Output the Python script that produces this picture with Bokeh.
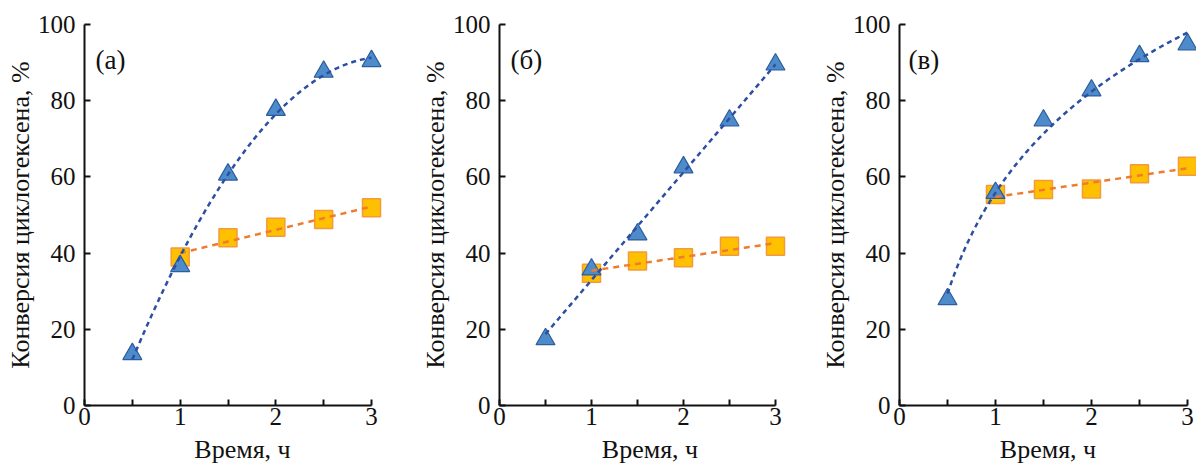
import numpy as np
from bokeh.plotting import figure
from bokeh.layouts import row
from bokeh.models import FixedTicker, Range1d, Label
from bokeh.embed import file_html
from bokeh.resources import INLINE

# ---- data ----
time_tri = [0.5, 1.0, 1.5, 2.0, 2.5, 3.0]
time_sq = [1.0, 1.5, 2.0, 2.5, 3.0]

a_tri = [13.5, 36.6, 60.6, 77.6, 87.6, 90.4]
a_sq = [39.0, 44.0, 46.8, 48.8, 51.9]

b_tri = [17.4, 35.7, 44.9, 62.5, 74.8, 89.5]
b_sq = [34.7, 37.9, 38.8, 41.8, 41.8]

v_tri = [27.9, 55.8, 74.8, 82.7, 91.7, 94.8]
v_sq = [55.4, 56.7, 56.8, 60.8, 62.8]

panel_labels = ["(а)", "(б)", "(в)"]
x_ticks = [0, 1, 2, 3]
x_minor = [0.5, 1.5, 2.5]
y_ticks = [0, 20, 40, 60, 80, 100]
x_title = "Время, ч"
y_title = "Конверсия циклогексена, %"

# trendline kind for each series (least-squares fit of the data above)
fits = [("poly2", "lin"), ("lin", "lin"), ("log", "lin")]

FONT = "'Liberation Serif', 'Times New Roman', serif"
TRI_FILL = "#4E8BCB"
TRI_LINE = "#2C5D9C"
BLUE_FIT = "#2D4FA3"
SQ_FILL = "#FFC000"
SQ_LINE = "#F29A3C"
ORANGE_FIT = "#EF7B2E"


def trend(x, y, kind, x0, x1):
    xs = np.linspace(x0, x1, 120)
    x = np.asarray(x, float)
    y = np.asarray(y, float)
    if kind == "lin":
        c = np.polyfit(x, y, 1)
        ys = np.polyval(c, xs)
    elif kind == "poly2":
        c = np.polyfit(x, y, 2)
        ys = np.polyval(c, xs)
    else:
        c = np.polyfit(np.log(x), y, 1)
        ys = np.polyval(c, np.log(xs))
    return xs, ys


def make_panel(tri, sq, label, kinds, width, border_left, x_end, lab_x):
    p = figure(width=width, height=466, output_backend="svg", toolbar_location=None,
               x_range=Range1d(0, x_end), y_range=Range1d(0, 100),
               min_border_left=border_left, min_border_right=0,
               min_border_top=24, min_border_bottom=59)
    p.outline_line_color = None
    p.grid.visible = False
    p.background_fill_color = "white"
    p.border_fill_color = "white"

    # markers
    p.scatter(time_sq, sq, marker="square", size=18, fill_color=SQ_FILL,
              line_color=SQ_LINE, line_width=1.5)
    p.scatter(time_tri, tri, marker="triangle", size=19, fill_color=TRI_FILL,
              line_color=TRI_LINE, line_width=1.2)

    # trendlines
    xs, ys = trend(time_sq, sq, kinds[1], time_sq[0], time_sq[-1])
    p.line(xs, ys, line_color=ORANGE_FIT, line_width=2.5, line_dash="6 5")
    xs, ys = trend(time_tri, tri, kinds[0], time_tri[0], time_tri[-1])
    p.line(xs, ys, line_color=BLUE_FIT, line_width=2.5, line_dash="5 4")

    # axes
    p.xaxis.ticker = FixedTicker(ticks=x_ticks, minor_ticks=x_minor)
    p.yaxis.ticker = FixedTicker(ticks=y_ticks, minor_ticks=[])
    p.xaxis.bounds = (0, 3)
    for ax in (p.xaxis[0], p.yaxis[0]):
        ax.axis_line_width = 2
        ax.axis_line_color = "#111111"
        ax.major_tick_in = 6
        ax.major_tick_out = 0
        ax.major_tick_line_width = 2
        ax.major_tick_line_color = "#111111"
        ax.minor_tick_in = 6
        ax.minor_tick_out = 0
        ax.minor_tick_line_width = 2
        ax.minor_tick_line_color = "#111111"
        ax.major_label_text_font = FONT
        ax.major_label_text_font_size = "25px"
        ax.major_label_text_color = "#111111"
        ax.axis_label_text_font = FONT
        ax.axis_label_text_font_size = "26px"
        ax.axis_label_text_font_style = "normal"
        ax.axis_label_text_color = "#111111"
    p.xaxis.axis_label = x_title
    p.yaxis.axis_label = y_title
    p.xaxis.major_label_standoff = 2
    p.xaxis.axis_label_standoff = 7
    p.yaxis.major_label_standoff = 9
    p.yaxis.axis_label_standoff = 0

    p.add_layout(Label(x=lab_x, y=90.8, text=label, text_font=FONT,
                       text_font_size="27px", text_baseline="middle",
                       text_color="#111111"))
    return p


p1 = make_panel(a_tri, a_sq, panel_labels[0], fits[0], 400, 84, 3.303, 0.115)
p2 = make_panel(b_tri, b_sq, panel_labels[1], fits[1], 400, 99, 3.272, 0.12)
p3 = make_panel(v_tri, v_sq, panel_labels[2], fits[2], 396, 99, 3.094, 0.094)

layout = row(p1, p2, p3, spacing=0)
open("out.html", "w").write(file_html(layout, INLINE))
